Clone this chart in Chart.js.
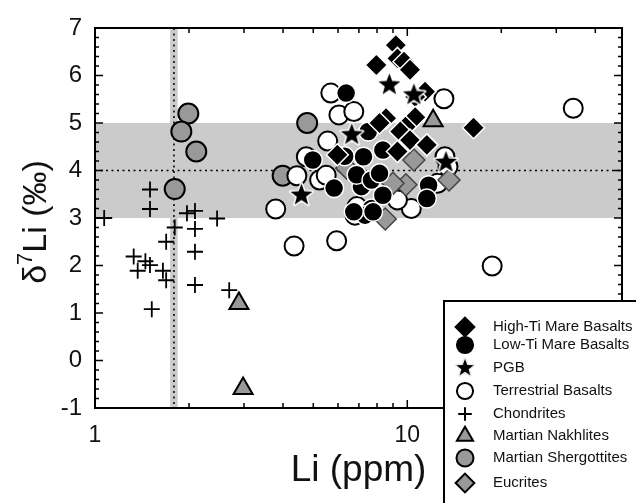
<!DOCTYPE html>
<html>
<head>
<meta charset="utf-8">
<script src="https://cdn.jsdelivr.net/npm/chart.js@4.4.0/dist/chart.umd.min.js"></script>
<style>
body { margin: 0; background: #fff; }
</style>
</head>
<body>
<canvas id="myChart" width="636" height="503"></canvas>
<script>
// points as [Li (ppm), d7Li (permil)]
var highTi = [[9.19,6.64],[7.96,6.22],[9.3,6.36],[9.76,6.29],[10.2,6.12],[11.4,5.66],[10.6,5.55],
  [8.55,5.10],[10.6,5.12],[16.3,4.90],[9.87,4.92],[9.5,4.82],[10.2,4.64],[11.55,4.54],[9.3,4.40],[5.97,4.33],[8.15,5.0]];
var lowTi = [[6.37,5.63],[4.98,4.22],[7.24,4.29],[7.5,4.82],[5.83,3.63],[7.13,3.66],[6.88,3.91],[7.68,3.80],
  [7.68,3.20],[7.32,3.06],[6.74,3.13],[8.35,4.43],[8.15,3.94],[8.35,3.48],[11.7,3.69],[11.55,3.41],[7.77,3.13],[6.3,4.3]];
var pgb = [[8.76,5.80],[10.5,5.59],[6.64,4.75],[13.3,4.17],[4.58,3.48]];
var terrestrial = [[3.79,3.19],[4.34,2.41],[4.43,3.89],[5.94,2.52],[34.0,5.31],[18.7,1.99],[13.1,5.51],[5.69,5.63],
  [6.04,5.17],[6.74,5.24],[5.56,4.62],[5.24,3.80],[6.9,3.24],[10.3,3.20],[13.2,4.29],[13.5,4.08],[9.3,3.38],
  [6.8,3.06],[4.75,4.29],[12.5,3.73],[5.5,3.9]];
var chondrites = [[1.07,3.0],[1.5,3.6],[1.5,3.19],[1.97,3.10],[2.09,3.15],[2.09,2.77],[1.8,2.8],[2.46,2.99],
  [1.69,2.5],[1.33,2.19],[1.45,2.09],[1.5,2.01],[1.37,1.89],[1.65,1.89],[1.69,1.69],[1.52,1.08],[2.69,1.48],
  [2.09,1.59],[2.09,2.29]];
var nakhlites = [[2.89,1.20],[2.98,-0.59],[12.1,5.05]];
var shergottites = [[1.99,5.20],[1.89,4.82],[2.11,4.40],[1.80,3.61],[4.78,5.0],[3.99,3.89]];
var eucrites = [[10.5,4.22],[9.9,3.70],[9.0,3.73],[8.5,2.98],[13.6,3.80],[6.4,4.05]];

var xLabels = [1, 10];
var bandY = [3, 5];   // grey range
var refY = 4;
var bandX = [1.74, 1.84];
var refX = 1.79;

function pts(a) { return a.map(function (p) { return {x: p[0], y: p[1]}; }); }

function makeStar(size, fill, stroke) {
  var c = document.createElement('canvas');
  c.width = c.height = size;
  var g = c.getContext('2d');
  var m = size / 2, R = size / 2 - 2, r = R * 0.42;
  g.beginPath();
  for (var i = 0; i < 10; i++) {
    var a = -Math.PI / 2 + i * Math.PI / 5;
    var rr = i % 2 ? r : R;
    g.lineTo(m + rr * Math.cos(a), m + rr * Math.sin(a));
  }
  g.closePath();
  g.lineJoin = 'round';
  g.lineWidth = 3;
  g.strokeStyle = stroke;
  g.stroke();
  g.fillStyle = fill;
  g.fill();
  return c;
}
var starImg = makeStar(27, '#000', '#fff');
var starLegend = makeStar(22, '#000', '#e8e8e8');

var font = "'Liberation Sans', Arial, sans-serif";

var datasets = [
  {label: 'High-Ti Mare Basalts', data: pts(highTi), pointStyle: 'rectRot', pointRadius: 11,
   backgroundColor: '#000', borderColor: '#fff', borderWidth: 1.5, order: 1},
  {label: 'Low-Ti Mare Basalts', data: pts(lowTi), pointStyle: 'circle', pointRadius: 9.5,
   backgroundColor: '#000', borderColor: '#fff', borderWidth: 1.5, order: 3},
  {label: 'PGB', data: pts(pgb), pointStyle: starImg, pointRadius: 11,
   backgroundColor: '#000', borderColor: '#fff', borderWidth: 0, order: 0},
  {label: 'Terrestrial Basalts', data: pts(terrestrial), pointStyle: 'circle', pointRadius: 9.5,
   backgroundColor: '#fff', borderColor: '#000', borderWidth: 2, order: 5},
  {label: 'Chondrites', data: pts(chondrites), pointStyle: 'cross', pointRadius: 8,
   backgroundColor: '#000', borderColor: '#000', borderWidth: 1.8, order: 7},
  {label: 'Martian Nakhlites', data: pts(nakhlites), pointStyle: 'triangle', pointRadius: 11,
   backgroundColor: '#999', borderColor: '#000', borderWidth: 2, order: 2},
  {label: 'Martian Shergottites', data: pts(shergottites), pointStyle: 'circle', pointRadius: 10,
   backgroundColor: '#999', borderColor: '#000', borderWidth: 2, order: 6},
  {label: 'Eucrites', data: pts(eucrites), pointStyle: 'rectRot', pointRadius: 11,
   backgroundColor: '#999', borderColor: '#444', borderWidth: 1.5, order: 4}
];

var bgPlugin = {
  id: 'bands',
  beforeDatasetsDraw: function (chart) {
    var ctx = chart.ctx, a = chart.chartArea;
    var xs = chart.scales.x, ys = chart.scales.y;
    ctx.save();
    ctx.fillStyle = '#cbcbcb';
    var y1 = ys.getPixelForValue(bandY[1]), y0 = ys.getPixelForValue(bandY[0]);
    ctx.fillRect(a.left, y1, a.right - a.left, y0 - y1);
    var x0 = xs.getPixelForValue(bandX[0]), x1 = xs.getPixelForValue(bandX[1]);
    ctx.fillRect(x0, a.top, x1 - x0, a.bottom - a.top);
    ctx.strokeStyle = '#000';
    ctx.lineWidth = 1.5;
    ctx.setLineDash([2, 3.5]);
    ctx.beginPath();
    var yr = ys.getPixelForValue(refY);
    ctx.moveTo(a.left, yr); ctx.lineTo(a.right, yr);
    var xr = xs.getPixelForValue(refX);
    ctx.moveTo(xr, a.top); ctx.lineTo(xr, a.bottom);
    ctx.stroke();
    ctx.restore();
  }
};

var framePlugin = {
  id: 'frame',
  afterDraw: function (chart) {
    var ctx = chart.ctx, a = chart.chartArea;
    var xs = chart.scales.x, ys = chart.scales.y;
    ctx.save();
    ctx.strokeStyle = '#000';
    ctx.lineWidth = 1.5;
    ctx.beginPath();
    // y ticks, both sides, pointing in
    for (var v = -1; v <= 7.001; v += 0.2) {
      var py = ys.getPixelForValue(v);
      var major = Math.abs(v - Math.round(v)) < 0.01;
      var len = major ? 8 : 4;
      ctx.moveTo(a.left, py); ctx.lineTo(a.left + len, py);
      ctx.moveTo(a.right, py); ctx.lineTo(a.right - len, py);
    }
    // x ticks top and bottom
    [1,2,3,4,5,6,7,8,9,10,20,30,40].forEach(function (t) {
      var px = xs.getPixelForValue(t);
      var len = (t === 1 || t === 10) ? 8 : 5;
      ctx.moveTo(px, a.bottom); ctx.lineTo(px, a.bottom - len);
      ctx.moveTo(px, a.top); ctx.lineTo(px, a.top + len);
    });
    ctx.stroke();
    ctx.lineWidth = 2;
    ctx.strokeRect(a.left, a.top, a.right - a.left, a.bottom - a.top);

    // y title with a real superscript 7
    ctx.save();
    ctx.translate(35, (a.top + a.bottom) / 2 + 4);
    ctx.rotate(-Math.PI / 2);
    ctx.fillStyle = '#111';
    ctx.textBaseline = 'middle';
    var big = '34px ' + font, small = '22px ' + font;
    ctx.font = big; var w1 = ctx.measureText('δ').width;
    ctx.font = small; var w2 = ctx.measureText('7').width;
    ctx.font = big; var w3 = ctx.measureText('Li (‰)').width;
    var sx = -(w1 + w2 + w3) / 2;
    ctx.font = big; ctx.fillText('δ', sx, 2);
    ctx.font = small; ctx.fillText('7', sx + w1, -9);
    ctx.font = big; ctx.fillText('Li (‰)', sx + w1 + w2, 2);
    ctx.restore();

    // legend box
    var lx = 444, ly = 301;
    ctx.fillStyle = '#fff';
    ctx.fillRect(lx, ly, 200, 210);
    ctx.strokeRect(lx, ly, 200, 210);
    var rows = [327, 345, 368, 391, 414, 436, 458, 483];
    ctx.font = '15px ' + font;
    ctx.textBaseline = 'middle';
    chart.data.datasets.forEach(function (ds, i) {
      var cy = rows[i], cx = 465;
      if (ds.pointStyle === starImg) {
        ctx.drawImage(starLegend, cx - 11, cy - 11);
      } else {
        ctx.fillStyle = ds.backgroundColor;
        ctx.strokeStyle = '#000';
        ctx.lineWidth = 2;
        Chart.helpers.drawPoint(ctx, {pointStyle: ds.pointStyle, radius: ds.pointRadius * 0.85,
          borderWidth: 2, rotation: 0}, cx, cy);
      }
      ctx.fillStyle = '#111';
      ctx.fillText(ds.label, 493, cy);
    });
    ctx.restore();
  }
};

var ctx = document.getElementById('myChart').getContext('2d');
var myChart = new Chart(ctx, {
  type: 'scatter',
  data: {datasets: datasets},
  options: {
    responsive: false,
    animation: false,
    layout: {padding: {left: 0, top: 28, right: 2, bottom: 0}},
    plugins: {legend: {display: false}, tooltip: {enabled: false}},
    scales: {
      x: {
        type: 'logarithmic', min: 1, max: 48.7,
        grid: {display: false, drawTicks: false},
        border: {display: false},
        afterFit: function (s) { s.height = 95; },
        ticks: {
          autoSkip: false, maxRotation: 0, padding: 14, color: '#111',
          font: {family: font, size: 23},
          callback: function (v) { return xLabels.indexOf(v) >= 0 ? String(v) : ''; }
        },
        title: {display: true, text: 'Li (ppm)', color: '#111', padding: 10,
          font: {family: font, size: 37}}
      },
      y: {
        min: -1, max: 7,
        grid: {display: false, drawTicks: false},
        border: {display: false},
        afterFit: function (s) { s.width = 95; },
        ticks: {stepSize: 1, padding: 13, color: '#111', font: {family: font, size: 24}},
        title: {display: false}
      }
    }
  },
  plugins: [bgPlugin, framePlugin]
});
</script>
</body>
</html>
